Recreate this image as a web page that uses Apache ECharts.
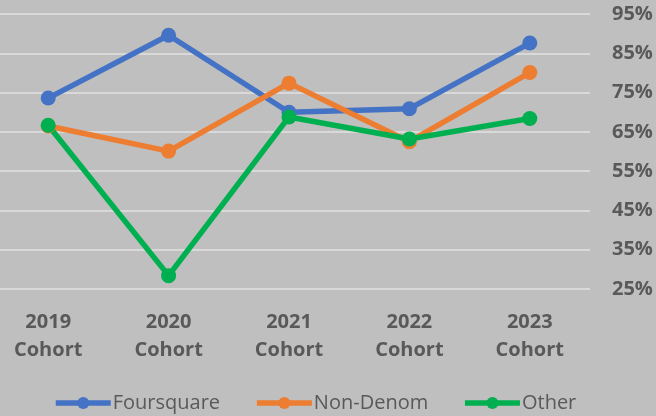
<!DOCTYPE html>
<html>
<head>
<meta charset="utf-8">
<script src="https://cdn.jsdelivr.net/npm/echarts@6/dist/echarts.min.js"></script>
<style>
  html, body { margin: 0; padding: 0; background: #bfbfbf; overflow: hidden; }
  /* the plot area starts slightly left of the window, so shift the chart */
  #chart { width: 668px; height: 416px; margin-left: -12px; }
</style>
</head>
<body>
<div id="chart"></div>
<script>
var cohorts = ['2019\nCohort', '2020\nCohort', '2021\nCohort', '2022\nCohort', '2023\nCohort'];
var foursquare = [73.6, 89.6, 70.0, 70.9, 87.6];
var nonDenom = [66.5, 60.1, 77.4, 62.5, 80.1];
var other = [66.7, 28.4, 68.8, 63.2, 68.4];
var seriesNames = ['Foursquare', 'Non-Denom', 'Other'];
var seriesColors = ['#4472c4', '#ed7d31', '#00b050'];

function lineSeries(name, data, color) {
    return {
        name: name,
        type: 'line',
        data: data,
        symbol: 'circle',
        symbolSize: 15,
        itemStyle: {color: color},
        lineStyle: {width: 5.5, color: color}
    };
}

var chart = echarts.init(document.getElementById('chart'));
var opt = {
    backgroundColor: '#bfbfbf',
    animation: false,
    textStyle: {fontFamily: 'Open Sans'},
    grid: {left: 0, right: 66, top: 14, bottom: 127},
    legend: {
        top: 388,
        left: 60,
        itemWidth: 55,
        itemHeight: 15,
        itemGap: 34,
        data: seriesNames,
        lineStyle: {width: 5.5},
        textStyle: {color: '#595959', fontSize: 20, padding: [0, 0, 0, -3]}
    },
    xAxis: {
        type: 'category',
        data: cohorts,
        axisLine: {show: false},
        axisTick: {show: false},
        axisLabel: {
            color: '#595959',
            fontSize: 20,
            fontWeight: 'bold',
            lineHeight: 28,
            margin: 19
        }
    },
    yAxis: {
        type: 'value',
        position: 'right',
        min: 25,
        max: 95,
        interval: 10,
        axisLine: {show: false},
        axisTick: {show: false},
        splitLine: {lineStyle: {color: '#d9d9d9', width: 2}},
        axisLabel: {
            color: '#595959',
            fontSize: 20,
            fontWeight: 'bold',
            margin: 22,
            formatter: '{value}%'
        }
    },
    series: [
        lineSeries(seriesNames[0], foursquare, seriesColors[0]),
        lineSeries(seriesNames[1], nonDenom, seriesColors[1]),
        lineSeries(seriesNames[2], other, seriesColors[2])
    ]
};
chart.setOption(opt);
</script>
</body>
</html>
